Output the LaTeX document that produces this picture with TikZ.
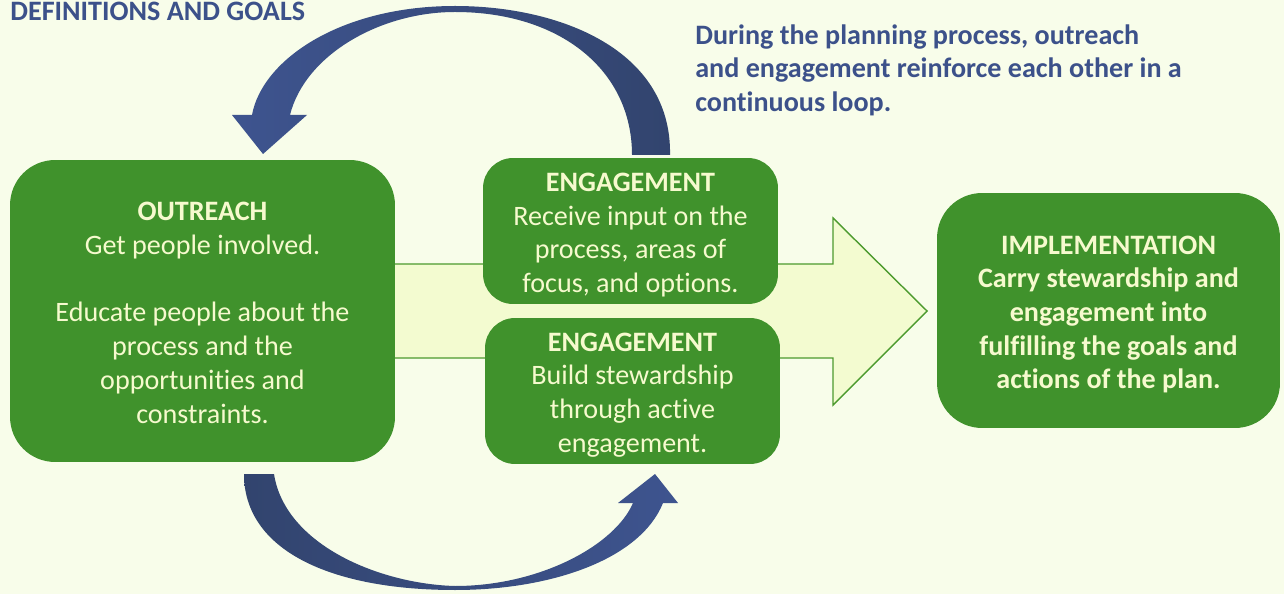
\documentclass[tikz,border=0pt]{standalone}
\usepackage{fontspec}
\setmainfont{Carlito}[Ligatures=NoCommon]
\definecolor{bgcol}{RGB}{248,253,234}
\definecolor{boxgreen}{RGB}{64,146,44}
\definecolor{boxtext}{RGB}{246,250,206}
\definecolor{arrowfill}{RGB}{243,251,208}
\definecolor{arrowline}{RGB}{76,154,46}
\definecolor{navy}{RGB}{50,68,110}
\definecolor{loopblue}{RGB}{62,84,143}
\definecolor{textblue}{RGB}{60,81,138}
\newcommand{\boxstrut}[1]{\rule{0pt}{#1}}
\begin{document}
\begin{tikzpicture}[x=0.02cm,y=-0.02cm,
	box/.style={fill=boxgreen,text=boxtext,align=center,inner sep=0pt,font=\fontsize{16}{19.2}\selectfont},
	bigbox/.style={box,rounded corners=0.9cm},
	smallbox/.style={box,rounded corners=0.6cm,minimum width=5.9cm,minimum height=2.92cm}]
	% background
	\fill[bgcol] (0,0) rectangle (1284,594);
	% wide arrow behind the boxes
	\draw[arrowline,fill=arrowfill,line width=0.8pt] (300,264) -- (833,264) -- (833,218) -- (927,311) -- (833,405) -- (833,358) -- (300,358) -- cycle;
	\node[bigbox,minimum width=7.7cm,minimum height=6.04cm] (outreach) at (202.5,311) {\boxstrut{12.6pt}\textbf{OUTREACH}\\Get people involved.\\[19.2pt]Educate people about the\\process and the\\opportunities and\\constraints.};
	\node[smallbox] (engage1) at (630.5,231) {\boxstrut{15pt}\textbf{ENGAGEMENT}\\Receive input on the\\process, areas of\\focus, and options.};
	\node[smallbox] (engage2) at (632.5,391) {\boxstrut{15pt}\textbf{ENGAGEMENT}\\Build stewardship\\through active\\engagement.};
	\node[bigbox,font=\bfseries\fontsize{16}{19.2}\selectfont,minimum width=6.86cm,minimum height=4.7cm] (implement) at (1108.5,310.5) {\boxstrut{15pt}IMPLEMENTATION\\Carry stewardship and\\engagement into\\fulfilling the goals and\\actions of the plan.};
	% loop arrows
	\shade[left color=loopblue,right color=navy] (632,155) -- (670,155) .. controls (672,50) and (560,6) .. (455,6) .. controls (340,6) and (262,60) .. (252,115) -- (232,115) -- (263,154) -- (307,115) -- (290,115) .. controls (305,55) and (380,12) .. (455,12) .. controls (560,12) and (632,70) .. (632,155) -- cycle;
	\shade[left color=navy,right color=loopblue] (244,474) -- (274,474) .. controls (285,545) and (380,584) .. (455,586) .. controls (540,586) and (615,545) .. (633,503) -- (618,503) -- (655,474) -- (678,503) -- (663,503) .. controls (640,560) and (550,590) .. (455,590) .. controls (330,590) and (244,550) .. (244,474) -- cycle;
	% texts
	\node[anchor=base west,inner sep=0pt,text=textblue,font=\bfseries\fontsize{16}{19}\selectfont] (title) at (10,21) {DEFINITIONS AND GOALS};
	\node[anchor=north west,inner sep=0pt,align=left,text=textblue,font=\bfseries\fontsize{16}{19.1}\selectfont] (note) at (695,24) {During the planning process, outreach\\and engagement reinforce each other in a\\continuous loop.};
	\useasboundingbox (0,0) rectangle (1284,594);
\end{tikzpicture}
\end{document}
